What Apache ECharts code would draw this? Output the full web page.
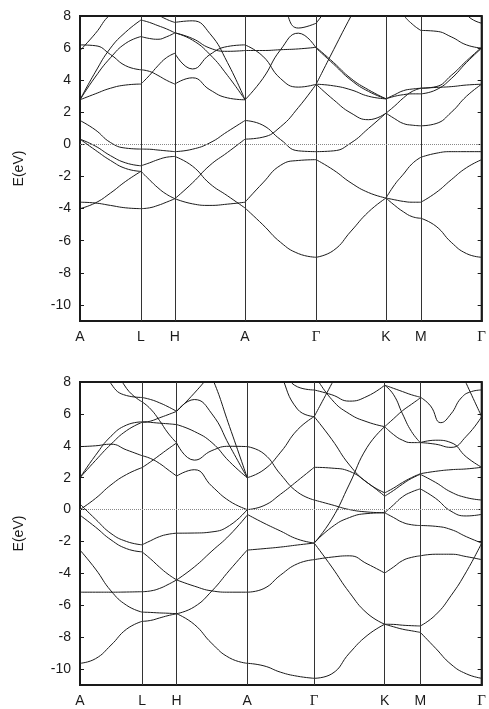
<!DOCTYPE html>
<html>
<head>
<meta charset="utf-8">
<script src="https://cdn.jsdelivr.net/npm/echarts@6/dist/echarts.min.js"></script>
<style>
html, body { margin: 0; padding: 0; background: #fff; }
#main { width: 489px; height: 709px; }
</style>
</head>
<body>
<div id="main"></div>
<script>
// high symmetry path and tick labels
var kLabels = ['A', 'L', 'H', 'A', 'Γ', 'K', 'M', 'Γ'];
var kTop = [0, 61.7, 96, 167, 239, 309.7, 345, 406.5];
var kBot = [0, 62.7, 97.7, 169, 236.7, 308, 344, 406];
var yTicks = [-10, -8, -6, -4, -2, 0, 2, 4, 6, 8];

// upper panel: energies (eV) sampled evenly along each segment
var topAL = [
    [6.2, 6.15, 5.6, 4.9, 4.65],
    [5.85, 6.9, 8.1, 8.6, 8.8],
    [2.78, 4.5, 6.0, 7.0, 7.75],
    [2.78, 4.2, 5.4, 6.3, 6.72],
    [2.78, 3.15, 3.5, 3.7, 3.76],
    [1.49, 0.91, 0.12, -0.23, -0.29],
    [0.33, -0.1, -0.7, -1.15, -1.33],
    [0.33, -0.35, -1.0, -1.5, -1.68],
    [-4.0, -3.65, -3.03, -2.3, -1.68],
    [-3.6, -3.65, -3.8, -3.95, -4.0]
];
var topLH = [
    [7.75, 7.6, 7.4, 7.2, 6.95],
    [6.72, 6.6, 6.55, 6.7, 6.95],
    [8.8, 8.5, 8.1, 7.8, 7.6],
    [4.65, 4.55, 4.3, 4.0, 3.76],
    [3.76, 4.3, 4.9, 5.4, 5.68],
    [-0.29, -0.3, -0.35, -0.4, -0.45],
    [-1.33, -1.15, -0.95, -0.8, -0.75],
    [-1.68, -2.2, -2.7, -3.1, -3.38],
    [-4.0, -3.95, -3.8, -3.6, -3.38]
];
var topHA = [
    [5.68, 4.7, 5.6, 6.1, 6.2],
    [3.76, 4.15, 3.4, 2.9, 2.78],
    [6.95, 6.5, 5.6, 4.3, 2.78],
    [7.6, 7.7, 6.9, 5.1, 2.78],
    [6.95, 6.6, 6.0, 5.8, 5.85],
    [-0.45, -0.3, 0.1, 0.8, 1.49],
    [-0.75, -1.35, -2.45, -3.2, -3.96],
    [-3.38, -2.4, -1.3, -0.5, 0.33],
    [-3.38, -3.7, -3.8, -3.72, -3.6]
];
var topAG = [
    [6.2, 5.5, 4.1, 3.57, 3.75],
    [5.85, 5.85, 5.9, 5.95, 6.05],
    [2.78, 4.1, 5.9, 6.93, 6.0],
    [1.49, 1.2, 0.3, -0.4, -0.45],
    [0.33, 0.45, 1.1, 2.3, 3.75],
    [10, 9.5, 8.8, 7.25, 7.55],
    [-3.6, -2.4, -1.3, -1.0, -0.95],
    [-3.96, -5.0, -6.1, -6.8, -7.03]
];
var topGK = [
    [6.0, 5.0, 4.0, 3.3, 2.84],
    [6.05, 5.1, 4.1, 3.4, 2.84],
    [3.75, 3.65, 3.4, 3.0, 2.84],
    [3.75, 2.78, 1.95, 1.54, 1.95],
    [-0.45, -0.4, 0.1, 1.0, 1.95],
    [3.75, 5.9, 8.0, 10, 12],
    [7.55, 9.0, 10.5, 12, 13],
    [-0.95, -1.6, -2.4, -3.0, -3.34],
    [-7.03, -6.6, -5.4, -4.2, -3.34]
];
var topKM = [
    [2.84, 3.1, 3.35, 3.45, 3.5],
    [2.84, 3.0, 3.1, 3.15, 3.15],
    [1.95, 1.6, 1.3, 1.2, 1.16],
    [1.95, 2.4, 2.9, 3.3, 3.5],
    [10, 9.2, 8.1, 7.5, 7.1],
    [-3.34, -2.5, -1.85, -1.2, -0.8],
    [-3.34, -3.45, -3.55, -3.6, -3.6],
    [-3.34, -3.8, -4.2, -4.5, -4.6]
];
var topMG = [
    [7.1, 7.05, 6.7, 6.2, 6.0],
    [3.5, 3.55, 3.6, 3.7, 3.75],
    [3.15, 3.4, 4.1, 5.1, 6.0],
    [3.5, 3.6, 4.3, 5.2, 6.05],
    [1.16, 1.3, 2.0, 3.0, 3.75],
    [12, 11, 10, 8.1, 7.55],
    [-0.8, -0.55, -0.45, -0.45, -0.45],
    [-3.6, -3.0, -2.2, -1.45, -0.95],
    [-4.6, -5.1, -6.1, -6.8, -7.03]
];

// lower panel
var botAL = [
    [3.95, 4.0, 4.1, 3.74, 3.38],
    [2.0, 3.08, 4.1, 4.95, 5.47],
    [2.0, 3.4, 4.6, 5.3, 5.5],
    [13, 11, 9.5, 7.6, 6.76],
    [12, 10, 7.9, 7.15, 7.03],
    [0.0, 0.7, 1.55, 2.2, 2.63],
    [0.35, -0.6, -1.5, -2.0, -2.21],
    [-0.35, -1.1, -1.9, -2.45, -2.65],
    [-2.54, -3.73, -5.1, -6.0, -6.43],
    [-5.18, -5.18, -5.18, -5.17, -5.15],
    [-9.64, -9.35, -8.5, -7.5, -7.01]
];
var botLH = [
    [5.53, 5.47, 5.42, 5.38, 5.33],
    [5.45, 5.55, 5.75, 5.95, 6.16],
    [7.03, 6.9, 6.7, 6.45, 6.16],
    [6.76, 6.3, 5.6, 4.8, 4.18],
    [2.63, 3.0, 3.4, 3.8, 4.18],
    [3.38, 3.2, 2.9, 2.5, 2.1],
    [-2.21, -1.95, -1.7, -1.55, -1.48],
    [-2.65, -3.1, -3.6, -4.05, -4.41],
    [-5.15, -5.1, -4.95, -4.7, -4.41],
    [-6.43, -6.45, -6.48, -6.5, -6.53],
    [-7.01, -6.95, -6.8, -6.65, -6.53]
];
var botHA = [
    [6.16, 6.9, 6.0, 4.0, 2.0],
    [6.16, 7.3, 8.6, 10, 11],
    [5.33, 4.9, 4.2, 3.0, 2.0],
    [4.18, 3.1, 3.7, 3.97, 3.95],
    [2.1, 2.5, 1.46, 0.53, 0.0],
    [12, 10.5, 8.3, 5.2, 2.0],
    [-1.48, -1.47, -1.4, -1.0, 0.0],
    [-4.41, -3.6, -2.6, -1.6, -0.35],
    [-4.41, -4.8, -5.1, -5.18, -5.18],
    [-6.53, -6.1, -5.1, -3.8, -2.54],
    [-6.53, -7.2, -8.4, -9.3, -9.64]
];
var botAG = [
    [3.95, 3.5, 2.2, 1.1, 0.6],
    [2.0, 2.5, 3.6, 5.0, 5.83],
    [13, 11, 8.5, 6.3, 5.83],
    [10, 9.5, 8.8, 7.7, 7.5],
    [0.0, 0.25, 0.97, 1.8, 2.65],
    [-0.3, -0.85, -1.35, -1.85, -2.1],
    [-2.54, -2.45, -2.35, -2.22, -2.1],
    [-5.18, -4.95, -4.1, -3.4, -3.14],
    [-9.64, -9.8, -10.2, -10.45, -10.58]
];
var botGK = [
    [7.5, 7.2, 6.8, 7.1, 7.8],
    [5.83, 7.9, 10, 12, 13],
    [5.83, 4.4, 2.8, 1.7, 1.05],
    [8.5, 6.9, 6.0, 5.5, 5.2],
    [2.65, 2.6, 2.4, 1.7, 0.84],
    [-2.1, -0.6, 1.6, 3.9, 5.2],
    [-2.1, -1.1, -0.5, -0.25, -0.2],
    [0.6, 0.3, 0.0, -0.15, -0.2],
    [-3.14, -2.98, -2.9, -3.4, -3.98],
    [-2.1, -3.6, -5.2, -6.5, -7.19],
    [-10.58, -10.3, -9.0, -7.9, -7.19]
];
var botKM = [
    [7.8, 7.6, 7.4, 7.2, 7.05],
    [7.8, 7.2, 6.0, 4.9, 4.2],
    [5.2, 4.7, 4.35, 4.2, 4.2],
    [5.2, 5.7, 6.2, 6.6, 7.0],
    [1.05, 1.35, 1.7, 2.0, 2.25],
    [0.84, 1.2, 1.6, 1.95, 2.21],
    [-0.2, -0.5, -0.8, -0.95, -1.0],
    [-0.2, 0.3, 0.8, 1.1, 1.3],
    [-3.98, -3.6, -3.2, -3.0, -2.9],
    [-7.19, -7.2, -7.25, -7.28, -7.3],
    [-7.19, -7.35, -7.5, -7.6, -7.7]
];
var botMG = [
    [7.05, 6.5, 5.45, 6.0, 7.0, 7.4, 7.5],
    [4.2, 4.35, 4.2, 3.3, 2.65],
    [4.2, 4.1, 3.9, 4.6, 5.83],
    [13, 12, 10, 7.9, 5.83],
    [2.25, 2.4, 2.5, 2.55, 2.65],
    [2.21, 1.7, 1.1, 0.75, 0.6],
    [1.3, 0.7, -0.1, -0.4, -0.3],
    [-1.0, -1.05, -1.25, -1.7, -2.1],
    [-2.9, -2.8, -2.8, -2.95, -3.14],
    [-7.3, -6.6, -5.4, -3.9, -2.1],
    [-7.7, -8.7, -9.7, -10.3, -10.58]
];

var topSegs = [topAL, topLH, topHA, topAG, topGK, topKM, topMG];
var botSegs = [botAL, botLH, botHA, botAG, botGK, botKM, botMG];

var font = 'Liberation Sans, Arial, sans-serif';
var ink = '#1a1a1a';

function bandSeries(k, segs, idx) {
    var out = [];
    segs.forEach(function(seg, s) {
        var x0 = k[s], x1 = k[s + 1];
        seg.forEach(function(vals) {
            var n = vals.length;
            out.push({
                type: 'line',
                xAxisIndex: idx,
                yAxisIndex: idx * 2,
                data: vals.map(function(v, i) {
                    return [x0 + (x1 - x0) * i / (n - 1), v];
                }),
                smooth: 0.5,
                showSymbol: false,
                symbol: 'none',
                silent: true,
                lineStyle: { color: ink, width: 1 },
                z: 3
            });
        });
    });
    // vertical lines at the symmetry points and the dotted Fermi level
    out.push({
        type: 'line',
        xAxisIndex: idx,
        yAxisIndex: idx * 2,
        data: [],
        silent: true,
        markLine: {
            symbol: 'none',
            silent: true,
            label: { show: false },
            animation: false,
            data: k.slice(1, -1).map(function(x) {
                return { xAxis: x, lineStyle: { color: '#333', width: 1, type: 'solid' } };
            }).concat([
                { yAxis: 0, lineStyle: { color: '#888', width: 1, type: [1, 1] } }
            ])
        }
    });
    return out;
}

function xAxisFor(k, idx) {
    return {
        type: 'value',
        gridIndex: idx,
        min: 0,
        max: k[k.length - 1],
        axisLine: { show: true, onZero: false, lineStyle: { color: ink, width: 2 } },
        axisTick: { show: false },
        splitLine: { show: false },
        axisLabel: {
            customValues: k,
            margin: 9,
            color: ink,
            fontFamily: font,
            fontSize: 14,
            formatter: function(v) {
                var lab = kLabels[k.indexOf(v)];
                return lab === 'Γ' ? '{g|Γ}' : lab;
            },
            rich: { g: { fontFamily: 'Liberation Serif, serif', fontSize: 15, color: ink } }
        }
    };
}

function yAxesFor(idx) {
    return [{
        type: 'value',
        gridIndex: idx,
        min: -11,
        max: 8,
        name: 'E(eV)',
        nameLocation: 'middle',
        nameGap: 54,
        nameTextStyle: { color: ink, fontFamily: font, fontSize: 14 },
        axisLine: { show: true, lineStyle: { color: ink, width: 2 } },
        axisTick: { inside: true, length: 4, customValues: yTicks, lineStyle: { color: ink } },
        axisLabel: { customValues: yTicks, margin: 9, color: ink, fontFamily: font, fontSize: 14 },
        splitLine: { show: false }
    }, {
        type: 'value',
        gridIndex: idx,
        position: 'right',
        min: -11,
        max: 8,
        axisLine: { show: true, lineStyle: { color: ink, width: 1.5 } },
        axisTick: { inside: true, length: 4, customValues: yTicks, lineStyle: { color: ink } },
        axisLabel: { show: false },
        splitLine: { show: false }
    }];
}

var chart = echarts.init(document.getElementById('main'));
chart.setOption({
    animation: false,
    backgroundColor: '#fff',
    grid: [
        { left: 80, right: 2.5, top: 16, height: 305, show: true, borderColor: ink, borderWidth: 2 },
        { left: 80, right: 3, top: 382, height: 304, show: true, borderColor: ink, borderWidth: 2 }
    ],
    xAxis: [xAxisFor(kTop, 0), xAxisFor(kBot, 1)],
    yAxis: yAxesFor(0).concat(yAxesFor(1)),
    series: bandSeries(kTop, topSegs, 0).concat(bandSeries(kBot, botSegs, 1))
});
</script>
</body>
</html>
